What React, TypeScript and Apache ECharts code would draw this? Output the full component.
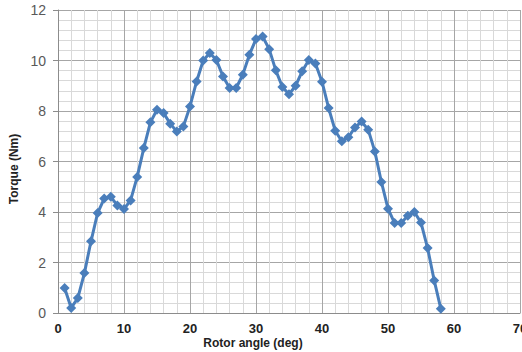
import React, { useEffect, useRef } from "react";
import * as echarts from "echarts";

const angles: number[] = [
  1, 2, 3, 4, 5, 6, 7, 8, 9, 10, 11, 12, 13, 14, 15, 16, 17, 18, 19, 20,
  21, 22, 23, 24, 25, 26, 27, 28, 29, 30, 31, 32, 33, 34, 35, 36, 37, 38, 39, 40,
  41, 42, 43, 44, 45, 46, 47, 48, 49, 50, 51, 52, 53, 54, 55, 56, 57, 58,
];
const torque: number[] = [
  0.99, 0.2, 0.59, 1.58, 2.84, 3.96, 4.53, 4.6, 4.26, 4.12, 4.46, 5.39, 6.53, 7.55, 8.05, 7.92, 7.5, 7.19, 7.39, 8.18,
  9.17, 10.0, 10.3, 10.02, 9.37, 8.91, 8.91, 9.44, 10.23, 10.85, 10.95, 10.45, 9.61, 8.95, 8.66, 9.0, 9.57, 10.02, 9.88, 9.16,
  8.12, 7.22, 6.8, 6.96, 7.35, 7.58, 7.26, 6.4, 5.19, 4.13, 3.56, 3.56, 3.85, 4.0, 3.58, 2.57, 1.29, 0.17,
];
const xTitle = "Rotor angle (deg)";
const yTitle = "Torque (Nm)";

export default function App() {
  const ref = useRef<HTMLDivElement>(null);
  useEffect(() => {
    if (!ref.current) return;
    const chart = echarts.init(ref.current, null, { renderer: "svg" });
    const font = "Liberation Sans, Arial, sans-serif";
    chart.setOption({
      animation: false,
      backgroundColor: "#ffffff",
      grid: { left: 58, top: 10, right: 2, bottom: 39, outerBoundsMode: "none", containLabel: false },
      xAxis: {
        type: "value",
        min: 0,
        max: 70,
        interval: 10,
        axisLine: { show: true, lineStyle: { color: "#8c8c8c", width: 1 } },
        axisTick: { show: false },
        axisLabel: { color: "#222", fontSize: 13, fontWeight: "bold", fontFamily: font, margin: 9 },
        splitLine: { show: true, lineStyle: { color: "#a6a6a6", width: 1 } },
        minorTick: { show: false, splitNumber: 5 },
        minorSplitLine: { show: true, lineStyle: { color: "#d9d9d9", width: 1 } },
      },
      yAxis: {
        type: "value",
        min: 0,
        max: 12,
        interval: 2,
        axisLine: { show: true, lineStyle: { color: "#8c8c8c", width: 1 } },
        axisTick: { show: true, length: 5, inside: false, lineStyle: { color: "#8c8c8c" } },
        axisLabel: { color: "#595959", fontSize: 14, fontFamily: font, margin: 12 },
        splitLine: { show: true, lineStyle: { color: "#a6a6a6", width: 1 } },
        minorTick: { show: false, splitNumber: 5 },
        minorSplitLine: { show: true, lineStyle: { color: "#d9d9d9", width: 1 } },
      },
      graphic: [
        {
          type: "text",
          x: 253,
          y: 343,
          style: {
            text: xTitle,
            font: `bold 12px ${font}`,
            fill: "#222",
            textAlign: "center",
            textVerticalAlign: "middle",
          },
        },
        {
          type: "text",
          x: 14,
          y: 169,
          rotation: Math.PI / 2,
          style: {
            text: yTitle,
            font: `bold 12px ${font}`,
            fill: "#222",
            textAlign: "center",
            textVerticalAlign: "middle",
          },
        },
      ],
      series: [
        {
          type: "line",
          data: angles.map((a, i) => [a, torque[i]]),
          symbol: "diamond",
          symbolSize: 10,
          lineStyle: { color: "#4a7ebb", width: 3 },
          itemStyle: { color: "#4a7ebb" },
        },
      ],
    });
    return () => chart.dispose();
  }, []);
  return <div ref={ref} style={{ width: 522, height: 352, position: "absolute", left: 0, top: 0 }} />;
}
